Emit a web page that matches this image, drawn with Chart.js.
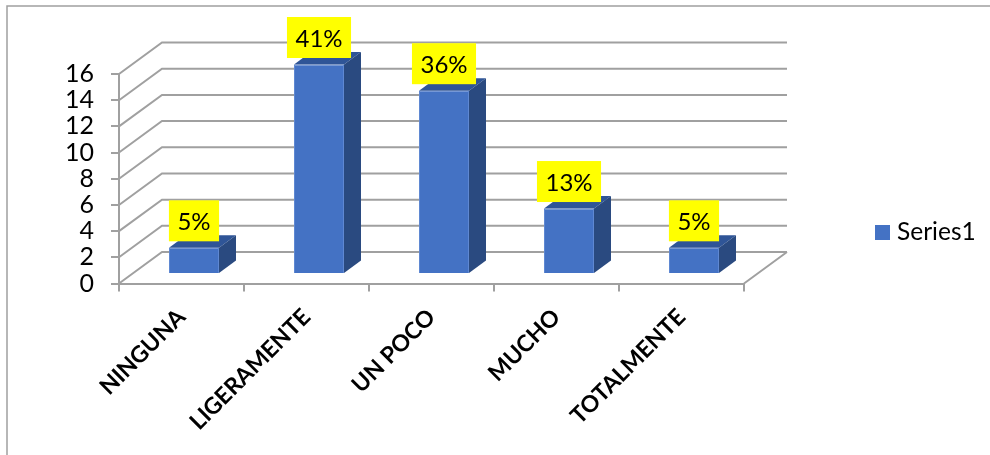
<!DOCTYPE html>
<html>
<head>
<meta charset="utf-8">
<style>
  html, body { margin: 0; padding: 0; background: #fff; }
</style>
<script src="https://cdn.jsdelivr.net/npm/chart.js@4"></script>
</head>
<body>
<canvas id="myChart" width="990" height="455"></canvas>
<script>
var categories = ['NINGUNA', 'LIGERAMENTE', 'UN POCO', 'MUCHO', 'TOTALMENTE'];
var seriesName = 'Series1';
var seriesValues = [2, 16, 14, 5, 2];
var shareLabels = ['5%', '41%', '36%', '13%', '5%'];

var lineGray = '#a0a0a0';
var fontName = 'Lato, "Open Sans", sans-serif';

// floor depth of the box, and how far the bars sit inside it
var wallDx = 43, wallDy = -31.5;
var barDx = 12.5, barDy = -9.5;
var sideDx = 17, sideDy = -12.5;

// outer frame, only top and left are visible
var framePlugin = {
  id: 'frame',
  beforeDraw: function (chart) {
    var c = chart.ctx;
    c.save();
    c.strokeStyle = lineGray;
    c.lineWidth = 1.5;
    c.beginPath();
    c.moveTo(7, 455);
    c.lineTo(7, 6);
    c.lineTo(990, 6);
    c.stroke();
    c.restore();
  }
};

// back wall lines, floor and the fake 3d sides of the bars
var boxPlugin = {
  id: 'box3d',
  beforeDatasetsDraw: function (chart) {
    var c = chart.ctx, y = chart.scales.y, a = chart.chartArea;
    c.save();
    c.strokeStyle = lineGray;
    c.lineWidth = 2;
    c.beginPath();
    y.ticks.forEach(function (t) {
      var py = y.getPixelForValue(t.value);
      c.moveTo(a.left, py);
      c.lineTo(a.left + wallDx, py + wallDy);
      c.lineTo(a.right + wallDx, py + wallDy);
    });
    c.moveTo(a.right, a.bottom);
    c.lineTo(a.right + wallDx, a.bottom + wallDy);
    c.stroke();
    c.restore();

    // bars stand in the middle of the floor, not on the front edge
    c.save();
    c.translate(barDx, barDy);
  },
  afterDatasetsDraw: function (chart) {
    var c = chart.ctx;
    chart.getDatasetMeta(0).data.forEach(function (bar) {
      var l = bar.x - bar.width / 2, r = bar.x + bar.width / 2;
      c.fillStyle = '#2f5597';
      c.beginPath();
      c.moveTo(l, bar.y);
      c.lineTo(l + sideDx, bar.y + sideDy);
      c.lineTo(r + sideDx, bar.y + sideDy);
      c.lineTo(r, bar.y);
      c.fill();
      c.fillStyle = '#2a4a80';
      c.beginPath();
      c.moveTo(r, bar.y);
      c.lineTo(r + sideDx, bar.y + sideDy);
      c.lineTo(r + sideDx, bar.base + sideDy);
      c.lineTo(r, bar.base);
      c.fill();
    });

    // yellow percent boxes above each bar
    c.font = '24px ' + fontName;
    c.textAlign = 'center';
    c.textBaseline = 'middle';
    chart.getDatasetMeta(0).data.forEach(function (bar, i) {
      var w = c.measureText(shareLabels[i]).width + 17;
      var bottom = bar.y - 6.5;
      c.fillStyle = '#ffff00';
      c.fillRect(bar.x - w / 2, bottom - 41, w, 41);
      c.fillStyle = '#000';
      c.fillText(shareLabels[i], bar.x, bottom - 19);
    });
    c.restore();

    // legend
    var ds = chart.data.datasets[0];
    c.save();
    c.fillStyle = ds.backgroundColor;
    c.fillRect(875, 225, 15, 15);
    c.fillStyle = '#000';
    c.font = '24.5px ' + fontName;
    c.textAlign = 'left';
    c.textBaseline = 'middle';
    c.fillText(ds.label, 897, 232.5);
    c.restore();
  }
};

var ctx = document.getElementById('myChart').getContext('2d');
var chart = new Chart(ctx, {
  type: 'bar',
  data: {
    labels: categories,
    datasets: [{
      label: seriesName,
      data: seriesValues,
      backgroundColor: '#4472c4',
      borderColor: '#5f88d2',
      borderWidth: 1,
      barPercentage: 0.4,
      categoryPercentage: 1,
      clip: false
    }]
  },
  options: {
    responsive: false,
    animation: false,
    layout: { padding: { top: 74, right: 246, bottom: 0, left: 0 } },
    plugins: {
      legend: { display: false },
      tooltip: { enabled: false }
    },
    scales: {
      x: {
        offset: true,
        afterFit: function (s) { s.height = 171.5; },
        grid: { drawOnChartArea: false, color: lineGray, lineWidth: 2, tickLength: 8 },
        border: { color: lineGray, width: 2 },
        ticks: {
          autoSkip: false,
          minRotation: 45,
          maxRotation: 45,
          padding: 12,
          color: '#000',
          font: { family: fontName, size: 23, weight: 'bold' }
        }
      },
      y: {
        min: 0,
        max: 16,
        afterFit: function (s) { s.width = 119; },
        grid: { drawOnChartArea: false, color: lineGray, lineWidth: 2, tickLength: 8 },
        border: { color: lineGray, width: 2 },
        ticks: {
          autoSkip: false,
          stepSize: 2,
          padding: 17,
          color: '#000',
          font: { family: fontName, size: 25 }
        }
      }
    }
  },
  plugins: [framePlugin, boxPlugin]
});
</script>
</body>
</html>
